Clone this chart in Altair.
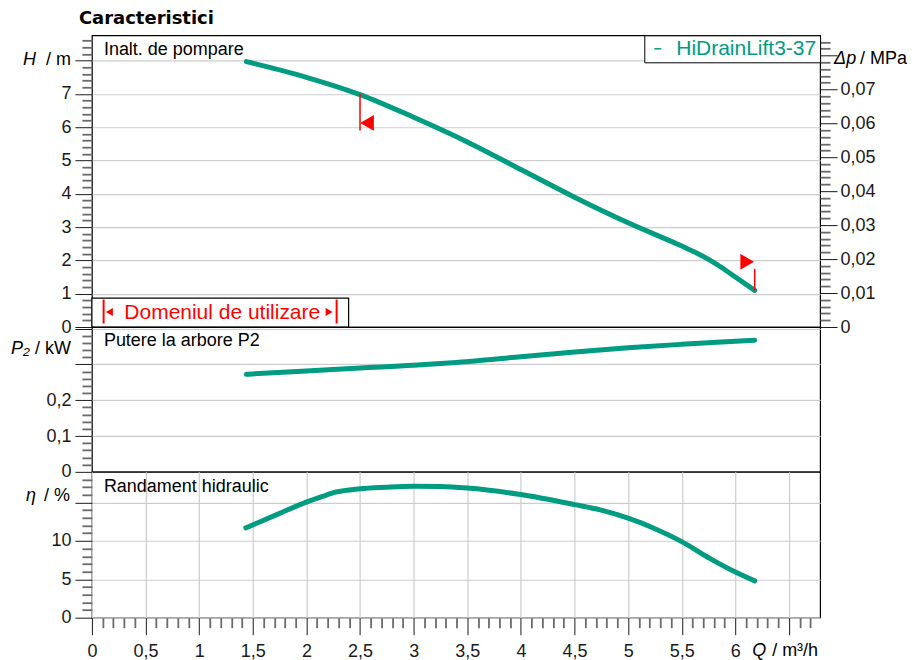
import altair as alt
import pandas as pd

TEAL = "#009c82"
RED = "#ff0000"
GRID = "#cdcdcd"
FONT = "Liberation Sans"
INK = "#1a1a1a"

SERIES = "HiDrainLift3-37"

# Inalt. de pompare  H / m  vs  Q / m3/h
Q_H = [1.44, 2.0, 2.5, 3.0, 3.5, 4.0, 4.5, 5.0, 5.5, 5.62, 5.75, 5.875, 6.0, 6.18]
H_M = [7.97, 7.5, 6.98, 6.3, 5.56, 4.73, 3.9, 3.13, 2.43, 2.25, 2.03, 1.78, 1.5, 1.1]

# Putere la arbore P2 / kW
Q_P = [1.44, 2.0, 2.5, 3.0, 3.36, 4.0, 4.5, 5.0, 5.5, 6.0, 6.18]
P_KW = [0.2725, 0.2817, 0.290, 0.2976, 0.305, 0.3216, 0.3347, 0.3467, 0.3562, 0.3645, 0.3675]

# Randament hidraulic  eta / %
Q_E = [1.435, 1.745, 2.0, 2.15, 2.27, 2.5, 2.74, 3.0, 3.25, 3.5, 4.0, 4.5, 4.74, 5.0,
       5.24, 5.5, 5.765, 6.0, 6.18]
ETA = [11.7, 13.56, 15.05, 15.8, 16.35, 16.8, 17.0, 17.13, 17.1, 16.9, 16.04, 14.73,
       14.04, 12.96, 11.66, 9.91, 7.7, 5.95, 4.8]

# limits of the operating range (marker line from curve, flag height)
LIM_Q = [2.5, 6.18]
LIM_H1 = [7.0, 1.75]
LIM_H2 = [5.9, 1.1]
LIM_FLAG = [6.13, 1.96]

MPA_PER_M = 0.00981

X_DOMAIN = [0, 6.79]
H_DOMAIN = [0, 8.76]
DP_DOMAIN = [0, 8.76 * MPA_PER_M]
P_DOMAIN = [0, 0.4045]
ETA_DOMAIN = [0, 19.0]

X_MAJOR = [i * 0.5 for i in range(14)]
X_MINOR = [round(i * 0.1, 1) for i in range(68) if i % 5]
H_MAJOR = list(range(9))
H_MINOR = [round(i * 0.2, 1) for i in range(44) if i % 5]
DP_MAJOR = [round(i * 0.01, 2) for i in range(9)]
DP_MINOR = [round(i * 0.002, 3) for i in range(43) if i % 5]
P_MAJOR = [0, 0.1, 0.2, 0.3, 0.4]
P_MINOR = [round(i * 0.02, 2) for i in range(21) if i % 5]
ETA_MAJOR = [0, 5, 10, 15]
ETA_MINOR = [i for i in range(19) if i % 5]

W = 729
H_TOP, H_MID, H_BOT = 292, 145, 146


def lab(limit):
    return f"datum.value > {limit} ? '' : replace(format(datum.value, '~g'), '.', ',')"


def major_axis(orient, values, limit, grid=True):
    pad = {"left": 4, "right": 3, "bottom": 8}[orient]
    return alt.Axis(orient=orient, values=values, labelExpr=lab(limit), grid=grid,
                    gridColor=GRID, gridWidth=1.2, ticks=True, tickSize=17,
                    tickColor=INK, tickWidth=1, domain=False, labelFont=FONT,
                    labelFontSize=18, labelColor=INK, labelPadding=pad,
                    labelOverlap=False, labelFlush=False, title=None)


def minor_axis(orient, values):
    return alt.Axis(orient=orient, values=values, labels=False, grid=False, ticks=True,
                    tickSize=10, tickColor="#6a6a6a", tickWidth=1.8, domain=False,
                    title=None)


def grid_axis():
    return alt.Axis(orient="bottom", values=X_MAJOR, labels=False, ticks=False,
                    domain=False, grid=True, gridColor=GRID, gridWidth=1.2, title=None)


xs = alt.Scale(domain=X_DOMAIN, nice=False)
hs = alt.Scale(domain=H_DOMAIN, nice=False)
ds = alt.Scale(domain=DP_DOMAIN, nice=False)
ps = alt.Scale(domain=P_DOMAIN, nice=False)
es = alt.Scale(domain=ETA_DOMAIN, nice=False)

ONE = alt.Data(values=[{}])


def label(text, x, y, align="left", size=18, style="normal", color="black",
          weight="normal", font=FONT, baseline="middle"):
    return alt.Chart(ONE).mark_text(
        text=text, align=align, baseline=baseline, font=font, fontSize=size,
        fontStyle=style, fontWeight=weight, color=color
    ).encode(x=alt.value(x), y=alt.value(y))


LINE = dict(strokeWidth=5, strokeCap="round", strokeJoin="round", interpolate="monotone")

# ---------------- top panel: H and delta p ----------------
dfH = pd.DataFrame({"Q": Q_H, "H": H_M, "series": [SERIES] * len(Q_H)})
dfL = pd.DataFrame({"Q": LIM_Q, "h1": LIM_H1, "h2": LIM_H2, "flag": LIM_FLAG})

h_line = alt.Chart(dfH).mark_line(**LINE).encode(
    x=alt.X("Q:Q", scale=xs, axis=grid_axis()),
    y=alt.Y("H:Q", scale=hs, axis=major_axis("left", H_MAJOR, 7.5)),
    color=alt.Color("series:N", scale=alt.Scale(domain=[SERIES], range=[TEAL]),
                    legend=alt.Legend(title=None, orient="top-right", offset=0,
                                      symbolType="stroke", symbolSize=49,
                                      symbolStrokeWidth=1.5, labelFont=FONT,
                                      labelFontSize=21, labelColor=TEAL,
                                      strokeColor="black", fillColor="white",
                                      padding=3, labelOffset=8, labelLimit=0)),
)
h_minor = alt.Chart(dfH).mark_line(opacity=0).encode(
    x=alt.X("Q:Q", scale=xs, axis=None),
    y=alt.Y("H:Q", scale=hs, axis=minor_axis("left", H_MINOR)),
)
lim_rule = alt.Chart(dfL).mark_rule(color=RED, strokeWidth=1.5).encode(
    x=alt.X("Q:Q", scale=xs, axis=None),
    y=alt.Y("h1:Q", scale=hs, axis=None), y2="h2:Q",
)
flag_l = alt.Chart(dfL.iloc[[0]]).mark_point(
    shape="triangle-left", filled=True, color=RED, opacity=1, size=250, xOffset=7
).encode(x=alt.X("Q:Q", scale=xs, axis=None), y=alt.Y("flag:Q", scale=hs, axis=None))
flag_r = alt.Chart(dfL.iloc[[1]]).mark_point(
    shape="triangle-right", filled=True, color=RED, opacity=1, size=250, xOffset=-7.5
).encode(x=alt.X("Q:Q", scale=xs, axis=None), y=alt.Y("flag:Q", scale=hs, axis=None))

# "Domeniul de utilizare" key box (bottom-left of the head panel)
dom_box = alt.Chart(ONE).mark_rect(fill="white", stroke="black", strokeWidth=1.2).encode(
    x=alt.value(0), x2=alt.value(257), y=alt.value(263), y2=alt.value(H_TOP))
dom_bar_l = alt.Chart(ONE).mark_rule(color=RED, strokeWidth=2).encode(
    x=alt.value(11.7), y=alt.value(264.5), y2=alt.value(288.5))
dom_bar_r = alt.Chart(ONE).mark_rule(color=RED, strokeWidth=2).encode(
    x=alt.value(245), y=alt.value(264.5), y2=alt.value(288.5))
dom_tri_l = alt.Chart(ONE).mark_point(shape="triangle-left", filled=True, color=RED,
                                      opacity=1, size=65).encode(x=alt.value(17.5), y=alt.value(277))
dom_tri_r = alt.Chart(ONE).mark_point(shape="triangle-right", filled=True, color=RED,
                                      opacity=1, size=65).encode(x=alt.value(237.5), y=alt.value(277))
dom_text = label("Domeniul de utilizare", 32.5, 278, size=21, color=RED)

# invisible anchor that fixes the left edge of the drawing
left_pin = alt.Chart(ONE).mark_rule(opacity=0, strokeWidth=1).encode(
    x=alt.value(-83), y=alt.value(0), y2=alt.value(5))

top_inner = alt.layer(
    h_line, h_minor, dom_box, dom_bar_l, dom_bar_r, dom_tri_l, dom_tri_r, dom_text,
    lim_rule, flag_l, flag_r, left_pin,
    label("Caracteristici", -13, -11, baseline="alphabetic", font="DejaVu Sans", weight="bold"),
    label("Inalt. de pompare", 12, 15),
    label("/ m", -21, 25, align="right"),
    label("H", -56, 25, align="right", style="italic"),
    label("Δp", 743, 24, style="italic"),
    label("/ MPa", 769, 24),
).resolve_axis(y="independent")

dp_major = alt.Chart(dfH).transform_calculate(dp=f"datum.H * {MPA_PER_M}").mark_line(opacity=0).encode(
    x=alt.X("Q:Q", scale=xs, axis=None),
    y=alt.Y("dp:Q", scale=ds, axis=major_axis("right", DP_MAJOR, 0.075, grid=False)),
)
dp_minor = alt.Chart(dfH).transform_calculate(dp=f"datum.H * {MPA_PER_M}").mark_line(opacity=0).encode(
    x=alt.X("Q:Q", scale=xs, axis=None),
    y=alt.Y("dp:Q", scale=ds, axis=minor_axis("right", DP_MINOR)),
)
dp_layer = alt.layer(dp_major, dp_minor).resolve_axis(y="independent")

top = alt.layer(top_inner, dp_layer).resolve_scale(y="independent").properties(width=W, height=H_TOP)

# ---------------- middle panel: P2 ----------------
dfP = pd.DataFrame({"Q": Q_P, "P2": P_KW})
p_line = alt.Chart(dfP).mark_line(color=TEAL, **LINE).encode(
    x=alt.X("Q:Q", scale=xs, axis=grid_axis()),
    y=alt.Y("P2:Q", scale=ps, axis=major_axis("left", P_MAJOR, 0.25)),
)
p_minor = alt.Chart(dfP).mark_line(opacity=0).encode(
    x=alt.X("Q:Q", scale=xs, axis=None),
    y=alt.Y("P2:Q", scale=ps, axis=minor_axis("left", P_MINOR)),
)
mid = alt.layer(
    p_line, p_minor,
    label("Putere la arbore P2", 12, 14),
    label("/ kW", -21, 22, align="right"),
    label("P₂", -81, 22, style="italic"),
).resolve_axis(y="independent").properties(width=W, height=H_MID)

# ---------------- bottom panel: efficiency ----------------
dfE = pd.DataFrame({"Q": Q_E, "eta": ETA})
e_line = alt.Chart(dfE).mark_line(color=TEAL, **LINE).encode(
    x=alt.X("Q:Q", scale=xs, axis=major_axis("bottom", X_MAJOR, 6.25)),
    y=alt.Y("eta:Q", scale=es, axis=major_axis("left", ETA_MAJOR, 12.5)),
)
e_minor = alt.Chart(dfE).mark_line(opacity=0).encode(
    x=alt.X("Q:Q", scale=xs, axis=minor_axis("bottom", X_MINOR)),
    y=alt.Y("eta:Q", scale=es, axis=minor_axis("left", ETA_MINOR)),
)
bot = alt.layer(
    e_line, e_minor,
    label("Randament hidraulic", 12, 15),
    label("/ %", -22, 24, align="right"),
    label("η", -56, 24, align="right", style="italic"),
    label("Q", 661, 179, style="italic"),
    label("/ m³/h", 681, 179),
).resolve_axis(x="independent", y="independent").properties(width=W, height=H_BOT)

chart = alt.vconcat(top, mid, bot, spacing=0, bounds="flush").resolve_legend(
    color="independent"
).properties(
    padding={"left": 0, "top": 1, "right": 0, "bottom": 0}, background="white"
).configure_view(stroke="black", strokeWidth=1.2)

chart.save("out.html", embed_options={"renderer": "svg", "actions": False})
